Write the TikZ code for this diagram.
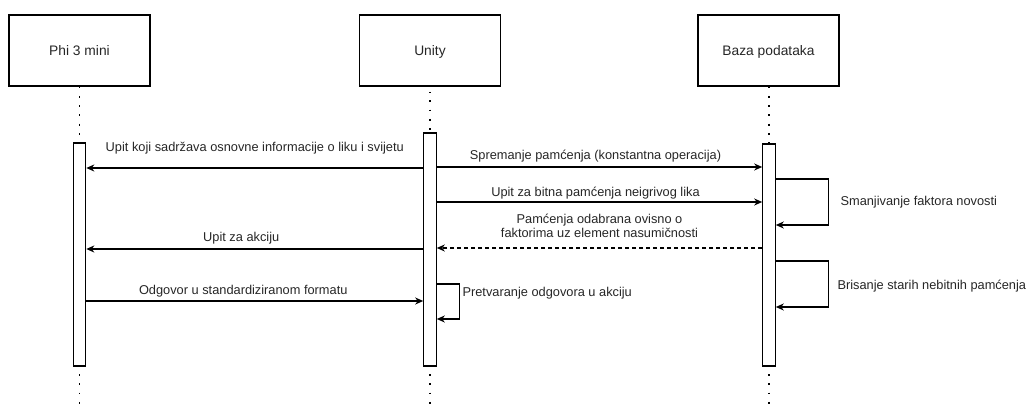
\documentclass[tikz,border=0pt]{standalone}
\usepackage{fontspec}
\setmainfont{Liberation Sans}
\usetikzlibrary{arrows.meta}

\begin{document}
\begin{tikzpicture}[> = {Stealth[length = 8pt, width = 7pt, inset = 2.5pt]}, % arrow head style
                x = 1pt, y = -1pt, % pixel units, y runs downwards
                line width = 1.1pt % line style
            ]

            \tikzstyle{actor}=[draw = black, rectangle, minimum width = 141pt,
            minimum height = 71pt, font = \fontsize{13.8}{16}\selectfont,
            text = black!85, text height = 9.9pt, text depth = 0pt]
            \tikzstyle{bar}=[draw = black, fill = white, rectangle,
            minimum width = 12.5pt, inner sep = 0pt]
            \tikzstyle{life}=[dash pattern = on 1.8pt off 7.5pt, line width = 1.8pt]
            \tikzstyle{lifeend}=[life, dash phase = 1.8pt]
            \tikzstyle{msg}=[->]
            \tikzstyle{reply}=[->, dash pattern = on 3.8pt off 3.2pt]
            \tikzstyle{lbl}=[font = \fontsize{12.8}{14}\selectfont, text = black!85,
            inner sep = 0pt, anchor = base]

            \useasboundingbox (0,0) rectangle (1029,409);

            % participants
            \node[actor] (phi) at (79.5,50.5) {Phi 3 mini}; \node[actor] (unity) at
            (430,50.5) {Unity}; \node[actor] (baza) at (768.5,50.5) {Baza podataka};

            % activation bars
            \node[bar, minimum height = 223pt] (phibar) at (79.5,254.5) {};
            \node[bar, minimum height = 233pt] (unitybar) at (430,249.5) {};
            \node[bar, minimum height = 222pt] (bazabar) at (769,255) {};

            % lifelines
            \draw[life] (phi.south) -- (phibar.north); \draw[life, dash phase = 1pt]
            (unity.south |- 0,92) -- (unitybar.north); \draw[life] (baza.south -| bazabar)
            -- (bazabar.north);
            \draw[lifeend] (phibar.south) -- (phibar.south |- 0,405); \draw[lifeend]
            (unitybar.south) -- (unitybar.south |- 0,405); \draw[lifeend] (bazabar.south)
            -- (bazabar.south |- 0,405);

            % messages
            \draw[msg] (unitybar.west |- 0,168) -- (phibar.east |- 0,168) node[lbl,
            midway, yshift = 16pt] {Upit koji sadržava osnovne informacije o liku i svijetu};
            \draw[msg] (unitybar.east |- 0,167) -- (bazabar.west |- 0,167) node[lbl,
            midway, yshift = 7.5pt, xshift = -4pt] {Spremanje pamćenja (konstantna operacija)};
            \draw[msg] (unitybar.east |- 0,202) -- (bazabar.west |- 0,202) node[lbl,
            midway, yshift = 5.5pt, xshift = -4pt] {Upit za bitna pamćenja neigrivog lika};
            \draw[reply] (bazabar.west |- 0,248) -- (unitybar.east |- 0,248) node[lbl,
            midway, yshift = 10.5pt, align = center] {Pamćenja odabrana ovisno o\\faktorima
            uz element nasumičnosti};
            \draw[msg] (unitybar.west |- 0,249) -- (phibar.east |- 0,249) node[lbl,
            midway, yshift = 7.5pt, xshift = -13.5pt] {Upit za akciju};
            \draw[msg] (phibar.east |- 0,301) -- (unitybar.west |- 0,301) node[lbl,
            midway, yshift = 6.5pt, xshift = -11.5pt] {Odgovor u standardiziranom formatu};

            % self calls
            \draw[msg] (bazabar.east |- 0,179) -- ++(53,0) |- (bazabar.east |- 0,225);
            \draw[msg] (bazabar.east |- 0,261) -- ++(53,0) |- (bazabar.east |- 0,307);
            \draw[msg] (unitybar.east |- 0,284) -- ++(23,0) |- (unitybar.east |- 0,319);
            \node[lbl, anchor = base west] (novost) at (840,206) {Smanjivanje faktora novosti};
            \node[lbl, anchor = base west] (brisanje) at (837,289.5) {Brisanje starih
            nebitnih pamćenja}; \node[lbl, anchor = base west] (akcija) at (462,296)
            {Pretvaranje odgovora u akciju};\end{tikzpicture}
\end{document}
